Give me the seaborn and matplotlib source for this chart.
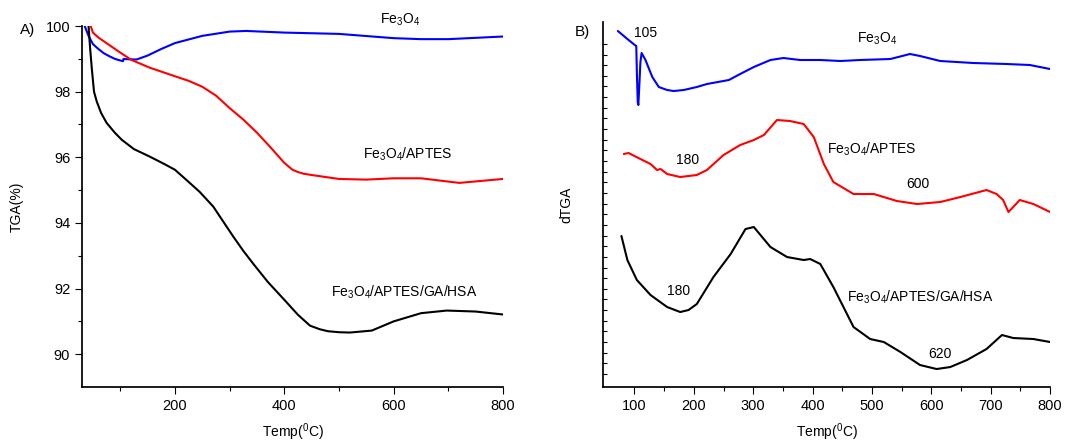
import numpy as np
import matplotlib
matplotlib.use("Agg")
import matplotlib.pyplot as plt
import seaborn as sns

# A) TGA curves (temperature in C, mass in %)
t_fe = [35, 42, 50, 60, 70, 80, 90, 100, 105, 106, 110, 130, 150, 175, 200, 250, 300, 330, 400, 500, 600, 650, 700, 800]
tga_fe = [100.0, 99.7, 99.45, 99.3, 99.17, 99.08, 99.0, 98.95, 98.93, 99.0, 98.99, 98.98, 99.1, 99.3, 99.48, 99.7, 99.83, 99.85, 99.8, 99.76, 99.63, 99.6, 99.6, 99.68]

t_aptes = [46, 50, 60, 80, 100, 120, 154, 200, 225, 250, 275, 300, 325, 350, 375, 400, 415, 425, 435, 450, 500, 550, 600, 650, 700, 720, 800]
tga_aptes = [100.0, 99.8, 99.65, 99.42, 99.19, 98.97, 98.73, 98.47, 98.33, 98.15, 97.88, 97.5, 97.15, 96.75, 96.3, 95.83, 95.62, 95.55, 95.5, 95.46, 95.34, 95.32, 95.36, 95.36, 95.26, 95.22, 95.34]

t_hsa = [42, 45, 48, 52, 57, 65, 75, 90, 103, 125, 154, 180, 200, 221, 245, 270, 290, 306, 325, 343, 370, 401, 425, 447, 465, 480, 500, 520, 560, 600, 650, 697, 750, 800]
tga_hsa = [100.0, 99.3, 98.7, 98.0, 97.7, 97.35, 97.05, 96.75, 96.53, 96.25, 96.02, 95.8, 95.62, 95.31, 94.95, 94.5, 94.0, 93.6, 93.15, 92.76, 92.2, 91.64, 91.2, 90.87, 90.76, 90.7, 90.67, 90.66, 90.72, 91.0, 91.25, 91.33, 91.3, 91.21]

# B) dTGA curves (arbitrary offset units)
d_t_fe = [72, 88, 100.5, 103, 104, 105.5, 106.5, 108, 110, 112, 118.5, 130, 141, 155, 166, 183, 205, 222, 259, 278, 301, 329, 351, 379, 413, 447, 480, 531, 564, 581, 615, 671, 727, 766, 800]
dtga_fe = [35.6, 34.8, 34.2, 34.1, 31.5, 28.5, 28.2, 30.0, 32.5, 33.4, 32.7, 31.0, 30.0, 29.7, 29.6, 29.7, 30.0, 30.3, 30.7, 31.3, 32.0, 32.7, 32.9, 32.7, 32.7, 32.6, 32.7, 32.8, 33.3, 33.1, 32.6, 32.4, 32.3, 32.2, 31.8]

d_t_aptes = [82, 90, 110, 127, 138, 144, 155, 177, 205, 222, 250, 278, 301, 318, 340, 362, 385, 402, 419, 435, 469, 503, 531, 542, 576, 615, 649, 693, 710, 721, 730, 749, 772, 800]
dtga_aptes = [23.3, 23.4, 22.8, 22.3, 21.7, 21.8, 21.3, 21.0, 21.2, 21.7, 23.2, 24.2, 24.7, 25.2, 26.7, 26.6, 26.3, 25.0, 22.3, 20.5, 19.3, 19.3, 18.8, 18.6, 18.3, 18.5, 19.0, 19.7, 19.3, 18.7, 17.5, 18.7, 18.3, 17.5]

d_t_hsa = [78, 88, 104, 127, 155, 177, 191, 205, 233, 262, 287, 301, 329, 357, 385, 396, 413, 435, 469, 497, 520, 548, 581, 609, 632, 660, 693, 719, 738, 772, 800]
dtga_hsa = [15.1, 12.7, 10.7, 9.2, 8.0, 7.5, 7.7, 8.3, 11.0, 13.3, 15.8, 16.0, 14.0, 13.0, 12.7, 12.8, 12.3, 10.0, 6.0, 4.8, 4.5, 3.5, 2.2, 1.8, 2.0, 2.7, 3.8, 5.2, 4.9, 4.8, 4.5]

sns.set_theme(style="ticks")
plt.rcParams['font.family'] = ['Liberation Sans', 'DejaVu Sans']
plt.rcParams['mathtext.default'] = 'regular'
plt.rcParams['text.color'] = 'black'
plt.rcParams['axes.labelcolor'] = 'black'
plt.rcParams['xtick.color'] = 'black'
plt.rcParams['ytick.color'] = 'black'

fig = plt.figure(figsize=(10.73, 4.41), dpi=100)
axA = fig.add_axes([0.0764, 0.1224, 0.3924, 0.8186])
axB = fig.add_axes([0.562, 0.1224, 0.4166, 0.8277])

fs = 10
tfs = 10.5
lw = 1.5

# Panel A
sns.lineplot(x=t_fe, y=tga_fe, color='#0000ff', lw=lw, ax=axA, sort=False)
sns.lineplot(x=t_aptes, y=tga_aptes, color='#ff0000', lw=lw, ax=axA, sort=False)
sns.lineplot(x=t_hsa, y=tga_hsa, color='black', lw=lw, ax=axA, sort=False)
axA.set_xlim(30, 800)
axA.set_ylim(89, 100)
axA.set_xticks([200, 400, 600, 800])
axA.set_xticks([100, 300, 500, 700], minor=True)
axA.set_yticks([90, 92, 94, 96, 98, 100])
axA.set_yticks([91, 93, 95, 97, 99], minor=True)
axA.set_xlabel('Temp($^0$C)', fontsize=fs, labelpad=6)
axA.set_ylabel('TGA(%)', fontsize=fs, labelpad=16)
axA.text(612, 100.2, 'Fe$_3$O$_4$', fontsize=fs, ha='center', va='center')
axA.text(626, 96.08, 'Fe$_3$O$_4$/APTES', fontsize=fs, ha='center', va='center')
axA.text(620, 91.9, 'Fe$_3$O$_4$/APTES/GA/HSA', fontsize=fs, ha='center', va='center')
fig.text(20 / 1073, 1 - 30 / 441, 'A)', fontsize=11, ha='left', va='center')

# Panel B
sns.lineplot(x=d_t_fe, y=dtga_fe, color='#0000ff', lw=lw, ax=axB, sort=False)
sns.lineplot(x=d_t_aptes, y=dtga_aptes, color='#ff0000', lw=lw, ax=axB, sort=False)
sns.lineplot(x=d_t_hsa, y=dtga_hsa, color='black', lw=lw, ax=axB, sort=False)
axB.set_xlim(47, 800)
axB.set_ylim(0, 36.5)
axB.set_xticks([100, 200, 300, 400, 500, 600, 700, 800])
axB.set_xticks([150, 250, 350, 450, 550, 650, 750], minor=True)
axB.set_yticks(np.arange(1.3, 35, 1.065))
axB.set_yticklabels([])
axB.tick_params(axis='y', direction='in', length=3, width=0.8)
axB.set_xlabel('Temp($^0$C)', fontsize=fs, labelpad=6)
axB.set_ylabel('dTGA', fontsize=fs, labelpad=18)
axB.text(118, 35.4, '105', fontsize=fs, ha='center', va='center')
axB.text(508, 34.8, 'Fe$_3$O$_4$', fontsize=fs, ha='center', va='center')
axB.text(500, 23.8, 'Fe$_3$O$_4$/APTES', fontsize=fs, ha='center', va='center')
axB.text(189, 22.7, '180', fontsize=fs, ha='center', va='center')
axB.text(577, 20.3, '600', fontsize=fs, ha='center', va='center')
axB.text(175, 9.6, '180', fontsize=fs, ha='center', va='center')
axB.text(581, 9.0, 'Fe$_3$O$_4$/APTES/GA/HSA', fontsize=fs, ha='center', va='center')
axB.text(614, 3.3, '620', fontsize=fs, ha='center', va='center')
fig.text(575 / 1073, 1 - 32 / 441, 'B)', fontsize=11, ha='left', va='center')

for ax in (axA, axB):
    sns.despine(ax=ax)
    ax.spines['left'].set_color('black')
    ax.spines['bottom'].set_color('black')
    ax.tick_params(axis='x', which='major', direction='out', length=5, width=0.8, labelsize=tfs)
    ax.tick_params(axis='x', which='minor', direction='out', length=3, width=0.8)
axA.tick_params(axis='y', which='major', direction='out', length=5, width=0.8, labelsize=tfs)
axA.tick_params(axis='y', which='minor', direction='out', length=3, width=0.8)

fig.savefig('out.png', dpi=100)
